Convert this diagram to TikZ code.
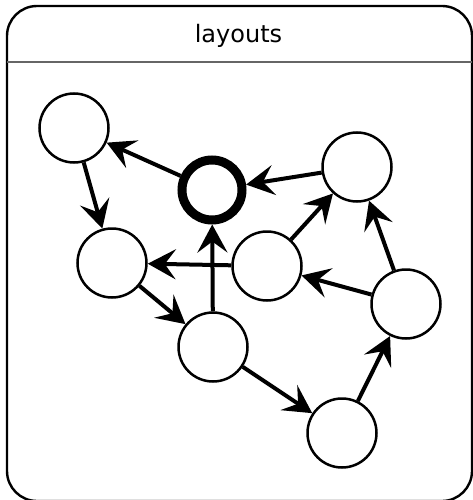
\documentclass[tikz,border=0pt]{standalone}
\usepackage{fontspec}
\setmainfont{DejaVu Sans}
\usetikzlibrary{arrows.meta}

\begin{document}
\begin{tikzpicture}[x=1pt, y=-1pt,
  state/.style={draw, circle, line width=2.5pt, minimum size=69pt, inner sep=0pt},
  current/.style={draw, circle, line width=9pt, minimum size=60pt, inner sep=0pt},
  link/.style={-{Stealth[length=28pt, width=30pt, inset=11pt]}, line width=4pt}]
  \useasboundingbox (0,0) rectangle (472,500);
  % frame and title bar
  \draw[line width=2.4pt, rounded corners=30pt] (7,6) rectangle (472,501);
  \draw[line width=1.5pt, black!60] (7,62) -- (472,62);
  \node[font=\fontsize{24}{28}\selectfont, anchor=base] (title) at (238.5,43) {layouts};
  % states
  \node[state] (tl) at (74,128) {};
  \node[current] (cur) at (212,190) {};
  \node[state] (ml) at (112,263) {};
  \node[state] (tr) at (357,167) {};
  \node[state] (mid) at (267,266) {};
  \node[state] (rt) at (406,304) {};
  \node[state] (bm) at (213,347) {};
  \node[state] (br) at (342,433) {};
  % links
  \draw[link] (cur) -- (tl);
  \draw[link] (tl) -- (ml);
  \draw[link] (tr) -- (cur);
  \draw[link] (mid) -- (ml);
  \draw[link] (bm) -- (cur);
  \draw[link] (mid) -- (tr);
  \draw[link] (rt) -- (tr);
  \draw[link] (rt) -- (mid);
  \draw[link] (ml) -- (bm);
  \draw[link] (bm) -- (br);
  \draw[link] (br) -- (rt);
\end{tikzpicture}
\end{document}
